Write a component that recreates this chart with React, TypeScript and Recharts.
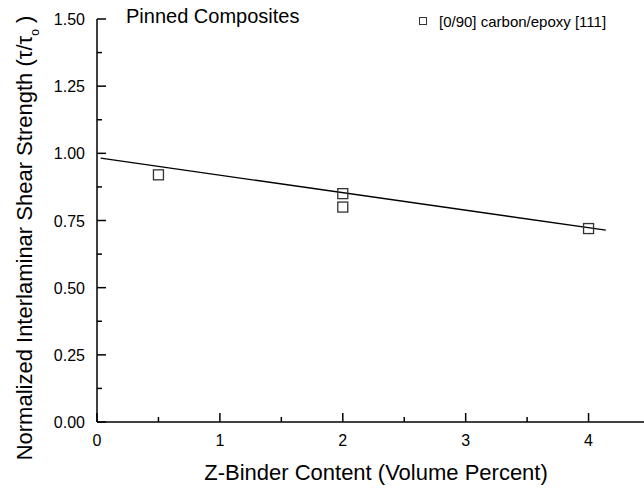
import { Label, Legend, Scatter, ScatterChart, XAxis, YAxis } from "recharts";

const FONT = '"Liberation Sans", Arial, Helvetica, sans-serif';

// measured points: z-binder volume % vs normalized ILSS
const binderContent = [0.5, 2, 2, 4];
const shearStrength = [0.92, 0.85, 0.8, 0.72];

// linear fit, end points as drawn
const fitX = [0.03, 4.14];
const fitY = [0.982, 0.714];

const xTicks = [0, 0.5, 1, 1.5, 2, 2.5, 3, 3.5, 4, 4.5];
const xLabels = [0, 1, 2, 3, 4];
const yTicks = [0, 0.125, 0.25, 0.375, 0.5, 0.625, 0.75, 0.875, 1, 1.125, 1.25, 1.375, 1.5];
const yLabels = [0, 0.25, 0.5, 0.75, 1, 1.25, 1.5];

const points = binderContent.map((x, i) => ({ x, y: shearStrength[i] }));
const fitLine = fitX.map((x, i) => ({ x, y: fitY[i] }));

function XTick({ x, y, payload }: any) {
  const major = xLabels.includes(payload.value);
  return (
    <g>
      <line x1={x} x2={x} y1={y} y2={y - (major ? 9 : 5)} stroke="#000" strokeWidth={1.5} />
      {major && (
        <text x={x} y={y + 24} textAnchor="middle" fontSize={16} fontFamily={FONT} fill="#000">
          {payload.value}
        </text>
      )}
    </g>
  );
}

function YTick({ x, y, payload }: any) {
  const major = yLabels.includes(payload.value);
  return (
    <g>
      <line x1={x} x2={x + (major ? 9 : 5)} y1={y} y2={y} stroke="#000" strokeWidth={1.5} />
      {major && (
        <text x={x - 12} y={y + 6} textAnchor="end" fontSize={16} fontFamily={FONT} fill="#000">
          {payload.value.toFixed(2)}
        </text>
      )}
    </g>
  );
}

function Square(props: any) {
  const { cx, cy } = props;
  return <rect x={cx - 5} y={cy - 5} width={10} height={10} fill="none" stroke="#333" strokeWidth={1.3} />;
}

function Annotations() {
  return (
    <svg width={644} height={40} style={{ display: "block" }}>
      <text x={126} y={23.3} fontSize={20} fontFamily={FONT} fill="#000">
        Pinned Composites
      </text>
      <rect x={419.5} y={17.5} width={7} height={7} fill="none" stroke="#333" strokeWidth={1} />
      <text x={439} y={26.5} fontSize={15} fontFamily={FONT} fill="#000">
        [0/90] carbon/epoxy [111]
      </text>
    </svg>
  );
}

export default function App() {
  return (
    <div style={{ position: "absolute", left: 0, top: 0, width: 644, height: 494, overflow: "hidden", background: "#fff" }}>
      <ScatterChart width={660} height={494} margin={{ top: 19, right: 10, bottom: 0, left: 0 }}>
        <XAxis
          type="number"
          dataKey="x"
          domain={[0, 4.5]}
          ticks={xTicks}
          interval={0}
          tickSize={0}
          tickMargin={0}
          tickLine={false}
          tick={XTick}
          axisLine={{ stroke: "#000", strokeWidth: 1.5 }}
          height={72}
          allowDataOverflow
        >
          <Label
            content={() => (
              <text x={376} y={480} textAnchor="middle" fontSize={22} fontFamily={FONT} fill="#000">
                Z-Binder Content (Volume Percent)
              </text>
            )}
          />
        </XAxis>
        <YAxis
          type="number"
          dataKey="y"
          domain={[0, 1.5]}
          ticks={yTicks}
          interval={0}
          tickSize={0}
          tickMargin={0}
          tickLine={false}
          tick={YTick}
          axisLine={{ stroke: "#000", strokeWidth: 1.5 }}
          width={97}
          allowDataOverflow
        >
          <Label
            content={() => (
              <text transform="rotate(-90)" x={-238} y={31.5} textAnchor="middle" fontSize={22} fontFamily={FONT} fill="#000">
                Normalized Interlaminar Shear Strength (τ/τ
                <tspan dy={7} fontSize={12}>o</tspan>
                <tspan dy={-7}> )</tspan>
              </text>
            )}
          />
        </YAxis>
        <Legend
          layout="vertical"
          align="center"
          verticalAlign="middle"
          wrapperStyle={{ left: 0, top: 0, width: 644, height: 40 }}
          content={() => <Annotations />}
        />
        <Scatter
          name="fit"
          data={fitLine}
          line={{ stroke: "#000", strokeWidth: 1.3 }}
          shape={() => <g />}
          isAnimationActive={false}
          legendType="none"
        />
        <Scatter
          name="[0/90] carbon/epoxy [111]"
          data={points}
          shape={Square}
          isAnimationActive={false}
        />
      </ScatterChart>
    </div>
  );
}
